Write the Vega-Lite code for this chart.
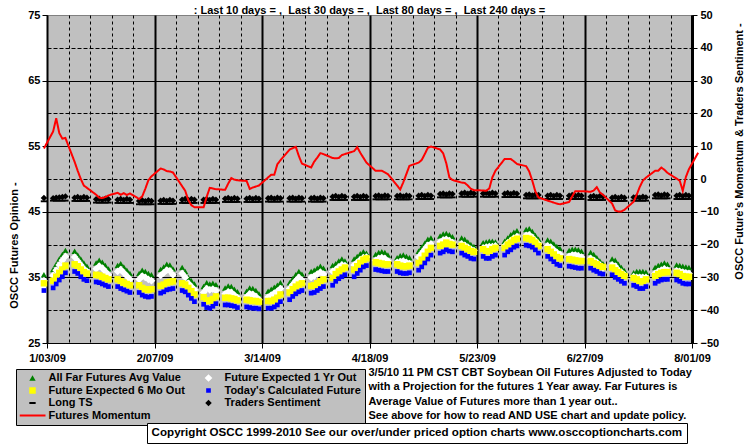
{
"$schema":"https://vega.github.io/schema/vega-lite/v6.json",
"width":645,"height":328,"autosize":"none",
"padding":{"left":47,"top":15,"right":63,"bottom":103},
"background":"#ffffff",
"title":{"text":": Last 10 days = ,\u00a0 Last 30 days = ,\u00a0 Last 80 days = ,\u00a0 Last 240 days =","anchor":"middle","frame":"group","font":"Liberation Sans","fontSize":11,"fontWeight":"bold","color":"#000000","baseline":"alphabetic","offset":2,"dy":18},
"data":{"values":[
{"date":"2009-01-02","far":35.4,"oneyear":34.5,"sixmo":34.1,"today":33.0,"longts":-6.8,"ts":-5.8,"mom":9.3},
{"date":"2009-01-05","far":36.2,"oneyear":35.3,"sixmo":34.5,"today":33.4,"longts":-6.6,"ts":-5.9,"mom":14.5},
{"date":"2009-01-06","far":37.0,"oneyear":36.1,"sixmo":35.1,"today":34.0,"longts":-6.6,"ts":-5.7,"mom":18.5},
{"date":"2009-01-07","far":37.8,"oneyear":36.9,"sixmo":35.7,"today":34.6,"longts":-6.6,"ts":-5.6,"mom":14.0},
{"date":"2009-01-08","far":38.5,"oneyear":37.6,"sixmo":36.2,"today":35.1,"longts":-6.6,"ts":-5.5,"mom":12.3},
{"date":"2009-01-09","far":39.1,"oneyear":38.2,"sixmo":36.8,"today":35.7,"longts":-6.6,"ts":-5.3,"mom":12.5},
{"date":"2009-01-12","far":39.0,"oneyear":38.1,"sixmo":37.0,"today":35.9,"longts":-6.7,"ts":-5.7,"mom":5.2},
{"date":"2009-01-13","far":38.4,"oneyear":37.5,"sixmo":36.7,"today":35.6,"longts":-6.7,"ts":-5.5,"mom":2.5},
{"date":"2009-01-14","far":37.8,"oneyear":36.9,"sixmo":36.2,"today":35.1,"longts":-6.7,"ts":-5.8,"mom":0.0},
{"date":"2009-01-15","far":37.2,"oneyear":36.3,"sixmo":35.8,"today":34.7,"longts":-6.7,"ts":-5.5,"mom":-2.0},
{"date":"2009-01-16","far":36.7,"oneyear":35.9,"sixmo":35.6,"today":34.5,"longts":-6.7,"ts":-5.7,"mom":-2.7},
{"date":"2009-01-19","far":37.2,"oneyear":36.3,"sixmo":35.4,"today":34.3,"longts":-7.2,"ts":-6.2,"mom":-4.8},
{"date":"2009-01-20","far":37.6,"oneyear":36.7,"sixmo":35.3,"today":34.2,"longts":-7.2,"ts":-6.0,"mom":-5.7},
{"date":"2009-01-21","far":37.3,"oneyear":36.4,"sixmo":35.1,"today":34.0,"longts":-7.2,"ts":-6.3,"mom":-5.8},
{"date":"2009-01-22","far":36.8,"oneyear":35.9,"sixmo":34.9,"today":33.8,"longts":-7.2,"ts":-6.0,"mom":-5.5},
{"date":"2009-01-23","far":36.3,"oneyear":35.4,"sixmo":34.7,"today":33.6,"longts":-7.2,"ts":-6.2,"mom":-5.0},
{"date":"2009-01-26","far":36.8,"oneyear":35.9,"sixmo":34.7,"today":33.6,"longts":-7.3,"ts":-6.3,"mom":-4.2},
{"date":"2009-01-27","far":37.1,"oneyear":36.2,"sixmo":34.4,"today":33.3,"longts":-7.3,"ts":-6.1,"mom":-4.8},
{"date":"2009-01-28","far":36.6,"oneyear":35.7,"sixmo":34.2,"today":33.1,"longts":-7.3,"ts":-6.4,"mom":-4.3},
{"date":"2009-01-29","far":36.1,"oneyear":35.2,"sixmo":34.0,"today":32.9,"longts":-7.3,"ts":-6.1,"mom":-4.9},
{"date":"2009-01-30","far":35.6,"oneyear":34.7,"sixmo":33.8,"today":32.7,"longts":-7.3,"ts":-6.3,"mom":-4.4},
{"date":"2009-02-02","far":35.6,"oneyear":34.7,"sixmo":33.8,"today":32.7,"longts":-7.7,"ts":-6.7,"mom":-6.1},
{"date":"2009-02-03","far":36.1,"oneyear":35.2,"sixmo":33.4,"today":32.3,"longts":-7.7,"ts":-6.5,"mom":-5.3},
{"date":"2009-02-04","far":35.9,"oneyear":35.0,"sixmo":33.2,"today":32.1,"longts":-7.7,"ts":-6.8,"mom":-3.0},
{"date":"2009-02-05","far":35.6,"oneyear":34.7,"sixmo":33.1,"today":32.0,"longts":-7.7,"ts":-6.5,"mom":-0.4},
{"date":"2009-02-06","far":35.4,"oneyear":34.5,"sixmo":33.2,"today":32.1,"longts":-7.7,"ts":-6.7,"mom":0.8},
{"date":"2009-02-09","far":36.2,"oneyear":35.3,"sixmo":33.7,"today":32.6,"longts":-7.6,"ts":-6.6,"mom":3.2},
{"date":"2009-02-10","far":36.6,"oneyear":35.7,"sixmo":33.9,"today":32.8,"longts":-7.6,"ts":-6.4,"mom":2.9},
{"date":"2009-02-11","far":37.0,"oneyear":36.1,"sixmo":34.2,"today":33.1,"longts":-7.6,"ts":-6.7,"mom":2.4},
{"date":"2009-02-12","far":36.9,"oneyear":36.0,"sixmo":34.3,"today":33.2,"longts":-7.6,"ts":-6.4,"mom":2.3},
{"date":"2009-02-13","far":36.3,"oneyear":35.4,"sixmo":34.4,"today":33.3,"longts":-7.6,"ts":-6.6,"mom":2.0},
{"date":"2009-02-16","far":36.5,"oneyear":35.6,"sixmo":34.1,"today":33.0,"longts":-7.3,"ts":-6.3,"mom":-2.2},
{"date":"2009-02-17","far":35.9,"oneyear":35.0,"sixmo":33.9,"today":32.8,"longts":-7.3,"ts":-6.1,"mom":-3.6},
{"date":"2009-02-18","far":35.0,"oneyear":34.1,"sixmo":33.4,"today":32.3,"longts":-7.3,"ts":-6.4,"mom":-6.4},
{"date":"2009-02-19","far":34.5,"oneyear":33.6,"sixmo":32.9,"today":31.8,"longts":-7.3,"ts":-6.1,"mom":-8.0},
{"date":"2009-02-20","far":34.0,"oneyear":33.1,"sixmo":32.4,"today":31.3,"longts":-7.3,"ts":-6.3,"mom":-8.6},
{"date":"2009-02-23","far":33.6,"oneyear":32.7,"sixmo":32.0,"today":30.9,"longts":-7.3,"ts":-6.3,"mom":-8.6},
{"date":"2009-02-24","far":34.2,"oneyear":33.3,"sixmo":31.5,"today":30.4,"longts":-7.3,"ts":-6.1,"mom":-5.4},
{"date":"2009-02-25","far":34.0,"oneyear":33.1,"sixmo":31.4,"today":30.3,"longts":-7.3,"ts":-6.4,"mom":-2.7},
{"date":"2009-02-26","far":34.1,"oneyear":33.2,"sixmo":31.7,"today":30.6,"longts":-7.3,"ts":-6.1,"mom":-2.9},
{"date":"2009-02-27","far":33.9,"oneyear":33.0,"sixmo":32.1,"today":31.0,"longts":-7.3,"ts":-6.3,"mom":-3.1},
{"date":"2009-03-02","far":33.4,"oneyear":32.5,"sixmo":31.9,"today":30.8,"longts":-7.0,"ts":-6.0,"mom":-3.3},
{"date":"2009-03-03","far":33.7,"oneyear":32.8,"sixmo":31.9,"today":30.8,"longts":-7.0,"ts":-5.8,"mom":-1.4},
{"date":"2009-03-04","far":33.6,"oneyear":32.7,"sixmo":31.8,"today":30.7,"longts":-7.0,"ts":-6.1,"mom":0.3},
{"date":"2009-03-05","far":33.2,"oneyear":32.3,"sixmo":31.7,"today":30.6,"longts":-7.0,"ts":-5.8,"mom":-0.2},
{"date":"2009-03-06","far":32.8,"oneyear":31.9,"sixmo":31.5,"today":30.4,"longts":-7.0,"ts":-6.0,"mom":-0.4},
{"date":"2009-03-09","far":32.9,"oneyear":32.0,"sixmo":31.6,"today":30.5,"longts":-7.0,"ts":-6.0,"mom":-0.6},
{"date":"2009-03-10","far":33.4,"oneyear":32.5,"sixmo":31.5,"today":30.4,"longts":-7.0,"ts":-5.8,"mom":-3.0},
{"date":"2009-03-11","far":33.3,"oneyear":32.4,"sixmo":31.4,"today":30.3,"longts":-7.0,"ts":-6.1,"mom":-2.6},
{"date":"2009-03-12","far":33.0,"oneyear":32.1,"sixmo":31.4,"today":30.3,"longts":-7.0,"ts":-5.8,"mom":-2.3},
{"date":"2009-03-13","far":32.5,"oneyear":31.6,"sixmo":31.3,"today":30.2,"longts":-7.0,"ts":-6.0,"mom":-2.0},
{"date":"2009-03-16","far":32.9,"oneyear":32.0,"sixmo":31.4,"today":30.3,"longts":-6.9,"ts":-5.9,"mom":0.5},
{"date":"2009-03-17","far":33.2,"oneyear":32.3,"sixmo":31.4,"today":30.3,"longts":-6.9,"ts":-5.7,"mom":1.3},
{"date":"2009-03-18","far":33.5,"oneyear":32.6,"sixmo":31.6,"today":30.5,"longts":-6.9,"ts":-6.0,"mom":1.3},
{"date":"2009-03-19","far":33.8,"oneyear":32.9,"sixmo":31.9,"today":30.8,"longts":-6.9,"ts":-5.7,"mom":4.5},
{"date":"2009-03-20","far":34.2,"oneyear":33.3,"sixmo":32.4,"today":31.3,"longts":-6.9,"ts":-5.9,"mom":5.7},
{"date":"2009-03-23","far":34.2,"oneyear":33.3,"sixmo":32.7,"today":31.6,"longts":-6.9,"ts":-5.9,"mom":9.0},
{"date":"2009-03-24","far":34.8,"oneyear":33.9,"sixmo":33.2,"today":32.1,"longts":-6.9,"ts":-5.7,"mom":9.4},
{"date":"2009-03-25","far":35.4,"oneyear":34.5,"sixmo":33.6,"today":32.5,"longts":-6.9,"ts":-6.0,"mom":9.8},
{"date":"2009-03-26","far":35.9,"oneyear":35.0,"sixmo":33.9,"today":32.8,"longts":-6.9,"ts":-5.7,"mom":7.0},
{"date":"2009-03-27","far":35.5,"oneyear":34.6,"sixmo":34.1,"today":33.0,"longts":-6.9,"ts":-5.9,"mom":4.7},
{"date":"2009-03-30","far":35.9,"oneyear":35.0,"sixmo":33.7,"today":32.6,"longts":-6.9,"ts":-5.9,"mom":3.5},
{"date":"2009-03-31","far":36.1,"oneyear":35.2,"sixmo":33.8,"today":32.7,"longts":-6.9,"ts":-5.7,"mom":5.3},
{"date":"2009-04-01","far":36.4,"oneyear":35.5,"sixmo":34.1,"today":33.0,"longts":-6.9,"ts":-6.0,"mom":6.5},
{"date":"2009-04-02","far":36.7,"oneyear":35.8,"sixmo":34.4,"today":33.3,"longts":-6.9,"ts":-5.7,"mom":7.9},
{"date":"2009-04-03","far":36.4,"oneyear":35.5,"sixmo":34.7,"today":33.6,"longts":-6.9,"ts":-5.9,"mom":7.6},
{"date":"2009-04-06","far":36.8,"oneyear":35.9,"sixmo":34.9,"today":33.8,"longts":-6.4,"ts":-5.4,"mom":6.4},
{"date":"2009-04-07","far":37.1,"oneyear":36.2,"sixmo":35.5,"today":34.4,"longts":-6.4,"ts":-5.2,"mom":6.3},
{"date":"2009-04-08","far":37.5,"oneyear":36.6,"sixmo":35.9,"today":34.8,"longts":-6.4,"ts":-5.5,"mom":6.4},
{"date":"2009-04-09","far":37.8,"oneyear":36.9,"sixmo":36.2,"today":35.1,"longts":-6.4,"ts":-5.2,"mom":7.3},
{"date":"2009-04-10","far":37.5,"oneyear":36.8,"sixmo":36.5,"today":35.4,"longts":-6.4,"ts":-5.4,"mom":7.6},
{"date":"2009-04-13","far":37.8,"oneyear":36.9,"sixmo":36.2,"today":35.1,"longts":-6.4,"ts":-5.4,"mom":8.5},
{"date":"2009-04-14","far":38.2,"oneyear":37.3,"sixmo":36.7,"today":35.6,"longts":-6.4,"ts":-5.2,"mom":9.7},
{"date":"2009-04-15","far":38.6,"oneyear":37.7,"sixmo":37.2,"today":36.1,"longts":-6.4,"ts":-5.5,"mom":8.0},
{"date":"2009-04-16","far":38.9,"oneyear":38.0,"sixmo":37.7,"today":36.6,"longts":-6.4,"ts":-5.2,"mom":6.5},
{"date":"2009-04-17","far":38.7,"oneyear":38.1,"sixmo":37.9,"today":36.8,"longts":-6.4,"ts":-5.4,"mom":5.0},
{"date":"2009-04-20","far":38.5,"oneyear":37.6,"sixmo":37.3,"today":36.2,"longts":-6.2,"ts":-5.2,"mom":2.5},
{"date":"2009-04-21","far":38.8,"oneyear":37.9,"sixmo":37.2,"today":36.1,"longts":-6.2,"ts":-5.0,"mom":2.5},
{"date":"2009-04-22","far":38.9,"oneyear":38.0,"sixmo":37.1,"today":36.0,"longts":-6.2,"ts":-5.3,"mom":2.5},
{"date":"2009-04-23","far":38.8,"oneyear":37.9,"sixmo":37.0,"today":35.9,"longts":-6.2,"ts":-5.0,"mom":2.0},
{"date":"2009-04-24","far":38.4,"oneyear":37.5,"sixmo":37.0,"today":35.9,"longts":-6.2,"ts":-5.2,"mom":1.5},
{"date":"2009-04-27","far":38.0,"oneyear":37.3,"sixmo":37.0,"today":35.9,"longts":-6.2,"ts":-5.2,"mom":-2.0},
{"date":"2009-04-28","far":38.3,"oneyear":37.4,"sixmo":36.8,"today":35.7,"longts":-6.2,"ts":-5.0,"mom":-3.2},
{"date":"2009-04-29","far":38.4,"oneyear":37.5,"sixmo":36.7,"today":35.6,"longts":-6.2,"ts":-5.3,"mom":-1.0},
{"date":"2009-04-30","far":38.2,"oneyear":37.3,"sixmo":36.7,"today":35.6,"longts":-6.2,"ts":-5.0,"mom":1.5},
{"date":"2009-05-01","far":38.0,"oneyear":37.1,"sixmo":36.8,"today":35.7,"longts":-6.2,"ts":-5.2,"mom":4.0},
{"date":"2009-05-04","far":39.0,"oneyear":38.1,"sixmo":37.2,"today":36.1,"longts":-6.1,"ts":-5.1,"mom":5.0},
{"date":"2009-05-05","far":39.6,"oneyear":38.7,"sixmo":37.7,"today":36.6,"longts":-6.1,"ts":-4.9,"mom":5.8},
{"date":"2009-05-06","far":40.2,"oneyear":39.3,"sixmo":38.3,"today":37.2,"longts":-6.1,"ts":-5.2,"mom":7.6},
{"date":"2009-05-07","far":40.8,"oneyear":39.9,"sixmo":38.9,"today":37.8,"longts":-6.1,"ts":-4.9,"mom":9.5},
{"date":"2009-05-08","far":41.0,"oneyear":40.1,"sixmo":39.5,"today":38.4,"longts":-6.1,"ts":-5.1,"mom":9.9},
{"date":"2009-05-11","far":41.3,"oneyear":40.4,"sixmo":39.8,"today":38.7,"longts":-5.6,"ts":-4.6,"mom":9.0},
{"date":"2009-05-12","far":41.6,"oneyear":40.7,"sixmo":40.0,"today":38.9,"longts":-5.6,"ts":-4.4,"mom":7.8},
{"date":"2009-05-13","far":41.7,"oneyear":40.8,"sixmo":40.3,"today":39.2,"longts":-5.6,"ts":-4.7,"mom":4.8},
{"date":"2009-05-14","far":41.5,"oneyear":40.6,"sixmo":40.1,"today":39.0,"longts":-5.6,"ts":-4.4,"mom":0.5},
{"date":"2009-05-15","far":41.2,"oneyear":40.3,"sixmo":40.0,"today":38.9,"longts":-5.6,"ts":-4.6,"mom":-0.3},
{"date":"2009-05-18","far":41.0,"oneyear":40.1,"sixmo":39.8,"today":38.7,"longts":-5.4,"ts":-4.4,"mom":-1.1},
{"date":"2009-05-19","far":40.8,"oneyear":39.9,"sixmo":39.5,"today":38.4,"longts":-5.4,"ts":-4.2,"mom":-1.2},
{"date":"2009-05-20","far":40.4,"oneyear":39.6,"sixmo":39.3,"today":38.2,"longts":-5.4,"ts":-4.5,"mom":-2.0},
{"date":"2009-05-21","far":40.0,"oneyear":39.3,"sixmo":39.0,"today":37.9,"longts":-5.4,"ts":-4.2,"mom":-3.0},
{"date":"2009-05-22","far":39.7,"oneyear":39.1,"sixmo":38.9,"today":37.8,"longts":-5.4,"ts":-4.4,"mom":-3.4},
{"date":"2009-05-25","far":40.3,"oneyear":39.5,"sixmo":39.3,"today":38.2,"longts":-5.4,"ts":-4.4,"mom":-3.5},
{"date":"2009-05-26","far":40.4,"oneyear":39.6,"sixmo":39.0,"today":37.9,"longts":-5.4,"ts":-4.2,"mom":-3.6},
{"date":"2009-05-27","far":40.5,"oneyear":39.7,"sixmo":39.0,"today":37.9,"longts":-5.4,"ts":-4.5,"mom":-2.9},
{"date":"2009-05-28","far":40.5,"oneyear":39.7,"sixmo":39.3,"today":38.2,"longts":-5.4,"ts":-4.2,"mom":0.5},
{"date":"2009-05-29","far":40.4,"oneyear":39.8,"sixmo":39.5,"today":38.4,"longts":-5.4,"ts":-4.4,"mom":2.5},
{"date":"2009-06-01","far":40.5,"oneyear":39.8,"sixmo":39.5,"today":38.4,"longts":-5.5,"ts":-4.5,"mom":6.1},
{"date":"2009-06-02","far":41.0,"oneyear":40.3,"sixmo":40.0,"today":38.9,"longts":-5.5,"ts":-4.3,"mom":6.1},
{"date":"2009-06-03","far":41.5,"oneyear":40.6,"sixmo":40.3,"today":39.2,"longts":-5.5,"ts":-4.6,"mom":6.1},
{"date":"2009-06-04","far":41.9,"oneyear":41.0,"sixmo":40.7,"today":39.6,"longts":-5.5,"ts":-4.3,"mom":5.4},
{"date":"2009-06-05","far":42.1,"oneyear":41.2,"sixmo":40.9,"today":39.8,"longts":-5.5,"ts":-4.5,"mom":4.6},
{"date":"2009-06-08","far":42.3,"oneyear":41.4,"sixmo":41.0,"today":39.9,"longts":-5.9,"ts":-4.9,"mom":3.9},
{"date":"2009-06-09","far":42.4,"oneyear":41.5,"sixmo":40.9,"today":39.8,"longts":-5.9,"ts":-4.7,"mom":2.3},
{"date":"2009-06-10","far":42.0,"oneyear":41.1,"sixmo":40.7,"today":39.6,"longts":-5.9,"ts":-5.0,"mom":-0.5},
{"date":"2009-06-11","far":41.4,"oneyear":40.6,"sixmo":40.3,"today":39.2,"longts":-5.9,"ts":-4.7,"mom":-3.8},
{"date":"2009-06-12","far":40.8,"oneyear":40.1,"sixmo":39.8,"today":38.7,"longts":-5.9,"ts":-4.9,"mom":-5.6},
{"date":"2009-06-15","far":40.7,"oneyear":39.8,"sixmo":39.3,"today":38.2,"longts":-6.1,"ts":-5.1,"mom":-6.6},
{"date":"2009-06-16","far":40.5,"oneyear":39.6,"sixmo":38.9,"today":37.8,"longts":-6.1,"ts":-4.9,"mom":-6.9},
{"date":"2009-06-17","far":40.1,"oneyear":39.2,"sixmo":38.5,"today":37.4,"longts":-6.1,"ts":-5.2,"mom":-7.2},
{"date":"2009-06-18","far":39.7,"oneyear":38.8,"sixmo":38.1,"today":37.0,"longts":-6.1,"ts":-4.9,"mom":-7.5},
{"date":"2009-06-19","far":39.4,"oneyear":38.5,"sixmo":37.9,"today":36.8,"longts":-6.1,"ts":-5.1,"mom":-7.7},
{"date":"2009-06-22","far":39.1,"oneyear":38.2,"sixmo":37.8,"today":36.7,"longts":-6.1,"ts":-5.1,"mom":-7.0},
{"date":"2009-06-23","far":39.3,"oneyear":38.4,"sixmo":37.7,"today":36.6,"longts":-6.1,"ts":-4.9,"mom":-5.3},
{"date":"2009-06-24","far":39.3,"oneyear":38.4,"sixmo":37.6,"today":36.5,"longts":-6.1,"ts":-5.2,"mom":-3.7},
{"date":"2009-06-25","far":39.2,"oneyear":38.3,"sixmo":37.5,"today":36.4,"longts":-6.1,"ts":-4.9,"mom":-3.7},
{"date":"2009-06-26","far":39.0,"oneyear":38.1,"sixmo":37.5,"today":36.4,"longts":-6.1,"ts":-5.1,"mom":-3.7},
{"date":"2009-06-29","far":38.8,"oneyear":37.9,"sixmo":37.5,"today":36.4,"longts":-6.4,"ts":-5.4,"mom":-3.9},
{"date":"2009-06-30","far":38.5,"oneyear":37.6,"sixmo":37.2,"today":36.1,"longts":-6.4,"ts":-5.2,"mom":-3.5},
{"date":"2009-07-01","far":38.0,"oneyear":37.3,"sixmo":37.0,"today":35.9,"longts":-6.4,"ts":-5.5,"mom":-2.5},
{"date":"2009-07-02","far":37.5,"oneyear":36.9,"sixmo":36.7,"today":35.6,"longts":-6.4,"ts":-5.2,"mom":-4.1},
{"date":"2009-07-03","far":37.1,"oneyear":36.5,"sixmo":36.6,"today":35.5,"longts":-6.4,"ts":-5.4,"mom":-4.8},
{"date":"2009-07-06","far":37.8,"oneyear":36.9,"sixmo":36.5,"today":35.4,"longts":-6.7,"ts":-5.7,"mom":-7.5},
{"date":"2009-07-07","far":37.6,"oneyear":36.7,"sixmo":36.1,"today":35.0,"longts":-6.7,"ts":-5.5,"mom":-9.6},
{"date":"2009-07-08","far":37.0,"oneyear":36.1,"sixmo":35.8,"today":34.7,"longts":-6.7,"ts":-5.8,"mom":-9.9},
{"date":"2009-07-09","far":36.5,"oneyear":35.8,"sixmo":35.5,"today":34.4,"longts":-6.7,"ts":-5.5,"mom":-9.9},
{"date":"2009-07-10","far":36.0,"oneyear":35.4,"sixmo":35.2,"today":34.1,"longts":-6.7,"ts":-5.7,"mom":-9.4},
{"date":"2009-07-13","far":35.7,"oneyear":35.1,"sixmo":34.9,"today":33.8,"longts":-6.6,"ts":-5.6,"mom":-6.9},
{"date":"2009-07-14","far":35.9,"oneyear":35.0,"sixmo":34.7,"today":33.6,"longts":-6.6,"ts":-5.4,"mom":-4.8},
{"date":"2009-07-15","far":35.9,"oneyear":35.0,"sixmo":34.4,"today":33.3,"longts":-6.6,"ts":-5.7,"mom":-2.4},
{"date":"2009-07-16","far":35.9,"oneyear":35.0,"sixmo":34.4,"today":33.3,"longts":-6.6,"ts":-5.4,"mom":-0.5},
{"date":"2009-07-17","far":35.8,"oneyear":35.0,"sixmo":34.7,"today":33.6,"longts":-6.6,"ts":-5.6,"mom":0.4},
{"date":"2009-07-20","far":36.5,"oneyear":35.6,"sixmo":35.2,"today":34.1,"longts":-5.9,"ts":-4.9,"mom":2.5},
{"date":"2009-07-21","far":36.8,"oneyear":35.9,"sixmo":35.5,"today":34.4,"longts":-5.9,"ts":-4.7,"mom":2.5},
{"date":"2009-07-22","far":37.0,"oneyear":36.1,"sixmo":35.7,"today":34.6,"longts":-5.9,"ts":-5.0,"mom":3.5},
{"date":"2009-07-23","far":37.2,"oneyear":36.3,"sixmo":35.8,"today":34.7,"longts":-5.9,"ts":-4.7,"mom":2.8},
{"date":"2009-07-24","far":37.0,"oneyear":36.1,"sixmo":35.8,"today":34.7,"longts":-5.9,"ts":-4.9,"mom":1.9},
{"date":"2009-07-27","far":36.9,"oneyear":36.0,"sixmo":35.7,"today":34.6,"longts":-6.1,"ts":-5.1,"mom":0.1},
{"date":"2009-07-28","far":36.8,"oneyear":35.9,"sixmo":35.5,"today":34.4,"longts":-6.1,"ts":-4.9,"mom":-0.5},
{"date":"2009-07-29","far":36.7,"oneyear":35.8,"sixmo":35.2,"today":34.1,"longts":-6.1,"ts":-5.2,"mom":-3.6},
{"date":"2009-07-30","far":36.6,"oneyear":35.7,"sixmo":35.1,"today":34.0,"longts":-6.1,"ts":-4.9,"mom":0.6},
{"date":"2009-07-31","far":36.5,"oneyear":35.6,"sixmo":35.1,"today":34.0,"longts":-6.1,"ts":-5.1,"mom":3.0},
{"date":"2009-08-03","far":null,"oneyear":null,"sixmo":null,"today":null,"longts":null,"ts":null,"mom":8.0}
]},
"layer":[
{
"transform":[{"fold":["far","oneyear","sixmo","today"],"as":["series","value"]}],
"mark":{"type":"point","filled":true,"opacity":1,"strokeWidth":0},
"encoding":{
"x":{"field":"date","type":"temporal","scale":{"type":"utc","domain":[1230940800000,1249084800000]},
"axis":{"values":[1230940800000,1231545600000,1232150400000,1232755200000,1233360000000,1233964800000,1234569600000,1235174400000,1235779200000,1236384000000,1236988800000,1237593600000,1238198400000,1238803200000,1239408000000,1240012800000,1240617600000,1241222400000,1241827200000,1242432000000,1243036800000,1243641600000,1244246400000,1244851200000,1245456000000,1246060800000,1246665600000,1247270400000,1247875200000,1248480000000,1249084800000],
"tickCount":100,
"labelExpr":"(datum.value - 1230940800000) % 3024000000 == 0 ? utcFormat(datum.value, '%-m/%d/%y') : ''",
"labelFlush":false,"labelOverlap":false,"labelPadding":4,"tickSize":5,
"tickOpacity":{"condition":{"test":"(datum.value - 1230940800000) % 3024000000 == 0","value":1},"value":0},
"grid":true,"gridColor":"#000000",
"gridDash":{"condition":{"test":"(datum.value - 1230940800000) % 3024000000 == 0","value":[]},"value":[3,3]},
"gridWidth":{"condition":{"test":"(datum.value - 1230940800000) % 3024000000 == 0","value":2},"value":1},
"gridOpacity":{"condition":{"test":"datum.value == 1230940800000","value":0},"value":1},
"domainColor":"#000000",
"title":["3/5/10 11 PM CST CBT Soybean Oil Futures Adjusted to Today","with a Projection for the futures 1 Year away. Far Futures is","Average Value of Futures more than 1 year out..","See above for how to read AND USE chart and update policy."],
"titleX":321,"titleY":32,"titleAlign":"left","titleAnchor":"start","titleBaseline":"alphabetic","titleLineHeight":14.5,"titleAngle":0}},
"y":{"field":"value","type":"quantitative","scale":{"domain":[25,75],"nice":false,"zero":false},
"axis":{"values":[25,30,35,40,45,50,55,60,65,70,75],"tickCount":100,"format":"d",
"labelExpr":"datum.value % 10 == 5 ? datum.label : ''",
"labelOverlap":false,"labelPadding":2,"tickSize":5,
"tickOpacity":{"condition":{"test":"datum.value % 10 == 5","value":1},"value":0},
"grid":true,"gridColor":"#000000",
"gridDash":{"condition":{"test":"datum.value % 10 == 5","value":[]},"value":[4,2]},
"gridOpacity":{"condition":{"test":"datum.value == 25 || datum.value == 75","value":0},"value":1},
"domainColor":"#000000",
"title":"OSCC Futures Opinion -","titleAngle":270,"titleX":-33,"titleY":230,"titleAlign":"center","titleBaseline":"middle"}},
"color":{"field":"series","type":"nominal",
"scale":{"domain":["far","oneyear","sixmo","today","longts","ts","mom"],"range":["#008000","#ffffff","#ffff00","#0000ff","#000000","#000000","#ff0000"]},
"legend":{"orient":"none","legendX":-31,"legendY":354,"title":null,"direction":"horizontal","columns":2,"fillColor":"#c0c0c0","strokeColor":"#000000","padding":3.5,"clipHeight":11,"rowPadding":0.5,"columnPadding":10,"labelOffset":3,"symbolStrokeWidth":0,"symbolOpacity":1,"labelLimit":0,
"labelExpr":"datum.label == 'far' ? 'All Far Futures Avg Value' : datum.label == 'oneyear' ? 'Future Expected 1 Yr Out' : datum.label == 'sixmo' ? 'Future Expected 6 Mo Out' : datum.label == 'today' ? \"Today's Calculated Future\" : datum.label == 'longts' ? 'Long TS' : datum.label == 'ts' ? 'Traders Sentiment' : 'Futures Momentum'"}},
"shape":{"field":"series","type":"nominal","scale":{"domain":["far","oneyear","sixmo","today","longts","ts","mom"],"range":["triangle-up","diamond","square","square","M-1,-0.3H1V0.3H-1Z","diamond","M-1,-0.08H1V0.08H-1Z"]}},
"size":{"field":"series","type":"nominal","scale":{"type":"ordinal","domain":["far","oneyear","sixmo","today","longts","ts","mom"],"range":[40,60,42,22,40,42,676]}},
"order":{"field":"series","type":"ordinal"}
}
},
{
"layer":[
{
"transform":[{"fold":["longts","ts"],"as":["series","value"]}],
"mark":{"type":"point","filled":true,"opacity":1,"strokeWidth":0},
"encoding":{
"x":{"field":"date","type":"temporal","scale":{"type":"utc","domain":[1230940800000,1249084800000]}},
"y":{"field":"value","type":"quantitative","scale":{"domain":[-50,50],"nice":false,"zero":false},
"axis":{"orient":"right","values":[-50,-40,-30,-20,-10,0,10,20,30,40,50],"tickCount":100,"format":"d","labelOverlap":false,"labelPadding":3,"tickSize":5,"grid":false,"domainColor":"#000000","domainWidth":3,
"title":"OSCC Future's Momentum & Traders Sentiment -","titleAngle":270,"titleX":47,"titleY":136,"titleAlign":"center","titleBaseline":"middle"}},
"color":{"field":"series","type":"nominal","scale":{"domain":["far","oneyear","sixmo","today","longts","ts","mom"],"range":["#008000","#ffffff","#ffff00","#0000ff","#000000","#000000","#ff0000"]}},
"shape":{"field":"series","type":"nominal","scale":{"domain":["far","oneyear","sixmo","today","longts","ts","mom"],"range":["triangle-up","diamond","square","square","M-1,-0.3H1V0.3H-1Z","diamond","M-1,-0.08H1V0.08H-1Z"]}},
"size":{"field":"series","type":"nominal","scale":{"type":"ordinal","domain":["far","oneyear","sixmo","today","longts","ts","mom"],"range":[40,60,42,22,40,42,676]}},
"order":{"field":"series","type":"ordinal"}
}
},
{
"mark":{"type":"line","color":"#ff0000","strokeWidth":2},
"encoding":{
"x":{"field":"date","type":"temporal","scale":{"type":"utc","domain":[1230940800000,1249084800000]}},
"y":{"field":"mom","type":"quantitative","scale":{"domain":[-50,50],"nice":false,"zero":false}},
"strokeDash":{"datum":"Copyright OSCC 1999-2010 See our over/under priced option charts www.osccoptioncharts.com","scale":{"range":[[1,0]]},
"legend":{"orient":"none","legendX":100,"legendY":408,"title":null,"fillColor":"#ffffff","strokeColor":"#000000","padding":4,"labelOffset":-11,"labelFontSize":11.6,"symbolSize":0,"symbolOpacity":0,"symbolStrokeWidth":0,"labelLimit":0}}
}
}
]
}
],
"resolve":{"scale":{"y":"independent"}},
"config":{
"font":"Liberation Sans",
"view":{"fill":"#c0c0c0","stroke":"#808080","strokeWidth":1},
"axis":{"labelFont":"Liberation Sans","labelFontSize":11,"labelFontWeight":"bold","labelColor":"#000000","titleFont":"Liberation Sans","titleFontSize":11,"titleFontWeight":"bold","titleColor":"#000000","domainColor":"#000000","tickColor":"#000000"},
"legend":{"labelFont":"Liberation Sans","labelFontSize":11,"labelFontWeight":"bold","labelColor":"#000000","labelLimit":0}
}
}
